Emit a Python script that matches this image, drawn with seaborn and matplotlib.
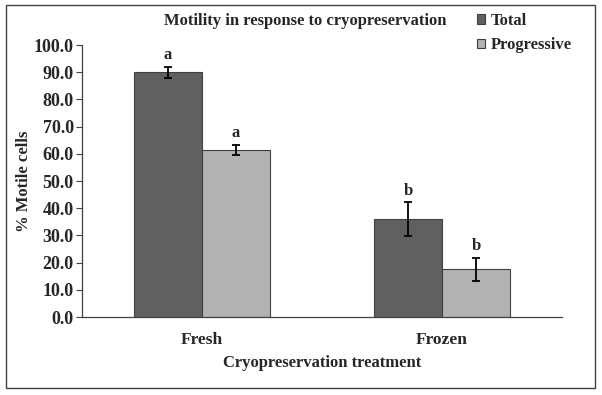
import matplotlib
matplotlib.use('Agg')
import matplotlib.pyplot as plt
from matplotlib.patches import Rectangle
import seaborn as sns
import pandas as pd
import numpy as np

# data
treatments = ['Fresh', 'Frozen']
series = ['Total', 'Progressive']
total_vals = [90.0, 36.0]
progressive_vals = [61.4, 17.6]
total_err = [2.0, 6.3]
progressive_err = [2.0, 4.2]
total_letters = ['a', 'b']
progressive_letters = ['a', 'b']

df = pd.DataFrame({
    'Treatment': treatments * 2,
    'Motility': ['Total'] * 2 + ['Progressive'] * 2,
    'Value': total_vals + progressive_vals,
})
errs = total_err + progressive_err
letters = total_letters + progressive_letters

sns.set_style('white')
plt.rcParams['font.family'] = ['Liberation Serif', 'DejaVu Serif']
plt.rcParams['font.weight'] = 'bold'

fig = plt.figure(figsize=(6.02, 3.95), dpi=100)
ax = fig.add_axes([82/602, 1-317/395, 480/602, 272/395])

palette = {'Total': '#606060', 'Progressive': '#b2b2b2'}
sns.barplot(data=df, x='Treatment', y='Value', hue='Motility', order=treatments,
            hue_order=series, palette=palette, width=0.567, saturation=1,
            edgecolor='#404040', linewidth=0.8, errorbar=None, ax=ax)

# error bars and significance letters
bars = [p for p in ax.patches if p.get_height() > 0][:4]
for p, e, let in zip(bars, errs, letters):
    xc = p.get_x() + p.get_width() / 2
    h = p.get_height()
    ax.errorbar(xc, h, yerr=e, color='black', capsize=3, capthick=1.3, elinewidth=1.3)
    ax.text(xc, h + e + 1.2, let, ha='center', va='bottom', fontsize=12, fontweight='bold')

ax.set_xlim(-0.5, 1.5)
ax.set_ylim(0, 100)
ax.set_yticks(np.arange(0, 101, 10))
ax.set_yticklabels([f'{v:.1f}' for v in np.arange(0, 101, 10)], fontsize=13, fontweight='bold')
ax.set_xticks([0, 1])
ax.set_xticklabels(treatments, fontsize=12.5, fontweight='bold')
ax.set_xticks([-0.5, 0.5, 1.5], minor=True)
ax.tick_params(axis='x', which='major', length=0, pad=11)
ax.tick_params(axis='x', which='minor', length=4, direction='out', color='#404040')
ax.tick_params(axis='y', length=4, direction='out', color='#404040', pad=2, left=True)
for s in ['top', 'right']:
    ax.spines[s].set_visible(False)
for s in ['left', 'bottom']:
    ax.spines[s].set_color('#404040')
    ax.spines[s].set_linewidth(0.9)

ax.set_xlabel('Cryopreservation treatment', fontsize=12, fontweight='bold', labelpad=5)
ax.set_ylabel('% Motile cells', fontsize=12, fontweight='bold', labelpad=1)
fig.text(305/602, 1-21/395, 'Motility in response to cryopreservation', ha='center',
         va='center', fontsize=12, fontweight='bold')

leg = ax.legend(loc='upper left', bbox_to_anchor=(477/602, 1-13/395),
                bbox_transform=fig.transFigure, frameon=False, fontsize=12,
                handlelength=0.5, handleheight=0.5, handletextpad=0.3, labelspacing=0.5,
                borderaxespad=0, borderpad=0)
for t in leg.get_texts():
    t.set_fontweight('bold')

fig.patches.append(Rectangle((6/602, 1-388/395), 589/602, 383/395, transform=fig.transFigure,
                             fill=False, edgecolor='#404040', linewidth=1))

fig.savefig('out.png', dpi=100)
